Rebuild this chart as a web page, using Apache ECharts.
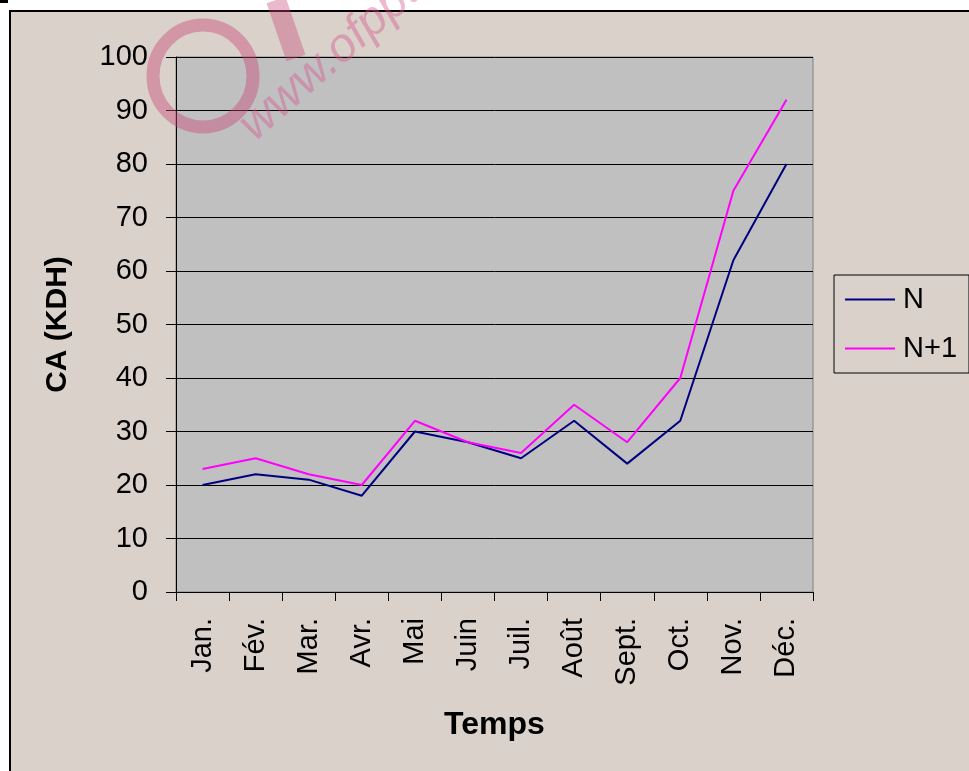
<!DOCTYPE html>
<html><head><meta charset="utf-8">
<script src="https://cdn.jsdelivr.net/npm/echarts@6/dist/echarts.min.js"></script>
<style>html,body{margin:0;padding:0;background:#fff;}#c{width:969px;height:771px;}</style>
</head><body><div id="c"></div>
<script>
const categories = ['Jan.','Fév.','Mar.','Avr.','Mai','Juin','Juil.','Août','Sept.','Oct.','Nov.','Déc.'];
const seriesN = [20,22,21,18,30,28,25,32,24,32,62,80];
const seriesN1 = [23,25,22,20,32,28,26,35,28,40,75,92];
const yTicks = {min:0, max:100, interval:10};
const FONT = 'Liberation Sans, Arial, sans-serif';
const chart = echarts.init(document.getElementById('c'));
chart.setOption({
  backgroundColor: '#fff',
  animation: false,
  graphic: [
    {type:'rect', z:-10, shape:{x:10,y:11,width:965,height:765}, style:{fill:'#D9D1CA', stroke:'#000', lineWidth:2}},
    {type:'rect', z:-10, shape:{x:0,y:0,width:8,height:3}, style:{fill:'#000'}},
    {type:'ellipse', z:100, shape:{cx:203,cy:76,rx:50,ry:51}, style:{fill:'none', stroke:'rgba(200,70,120,0.42)', lineWidth:13}},
    {type:'line', z:100, shape:{x1:276,y1:0,x2:296,y2:58}, style:{stroke:'rgba(200,70,120,0.38)', lineWidth:20}},
    {type:'text', z:100, x:262, y:150, rotation:0.72, style:{text:'www.ofppt.ma', font:'italic 48px '+FONT, fill:'rgba(215,80,140,0.4)', textVerticalAlign:'bottom'}}
  ],
  grid: {left:176, right:156, top:57, bottom:179, show:true, backgroundColor:'#C0C0C0', borderColor:'#808080', borderWidth:1},
  legend: {
    orient:'vertical', left:834, top:275,
    data:['N','N+1'], icon:'rect', itemWidth:50, itemHeight:2, itemGap:20,
    padding:[10,12,10,11], borderColor:'#000', borderWidth:1, backgroundColor:'#D9D1CA',
    textStyle:{fontFamily:FONT, fontSize:29, color:'#000', padding:[0,0,0,3]}
  },
  xAxis: {
    type:'category', data:categories, boundaryGap:true,
    name:'Temps', nameLocation:'middle', nameGap:117,
    nameTextStyle:{fontFamily:FONT, fontSize:32, fontWeight:'bold', color:'#000'},
    axisLine:{lineStyle:{color:'#000', width:1}},
    axisTick:{show:true, inside:false, length:9, lineStyle:{color:'#000'}},
    axisLabel:{rotate:90, margin:26, fontFamily:FONT, fontSize:29, color:'#000'}
  },
  yAxis: {
    type:'value', min:yTicks.min, max:yTicks.max, interval:yTicks.interval,
    name:'CA (KDH)', nameLocation:'middle', nameGap:103, nameRotate:90,
    nameTextStyle:{fontFamily:FONT, fontSize:30, fontWeight:'bold', color:'#000'},
    axisLine:{show:true, lineStyle:{color:'#000', width:1}},
    axisTick:{show:true, inside:false, length:10, lineStyle:{color:'#000'}},
    axisLabel:{margin:28, fontFamily:FONT, fontSize:29, color:'#000'},
    splitLine:{show:true, lineStyle:{color:'#000', width:1}}
  },
  series: [
    {name:'N', type:'line', data:seriesN, symbol:'none', lineStyle:{color:'#000080', width:2}, itemStyle:{color:'#000080'}},
    {name:'N+1', type:'line', data:seriesN1, symbol:'none', lineStyle:{color:'#FF00FF', width:2}, itemStyle:{color:'#FF00FF'}}
  ]
});
</script></body></html>
